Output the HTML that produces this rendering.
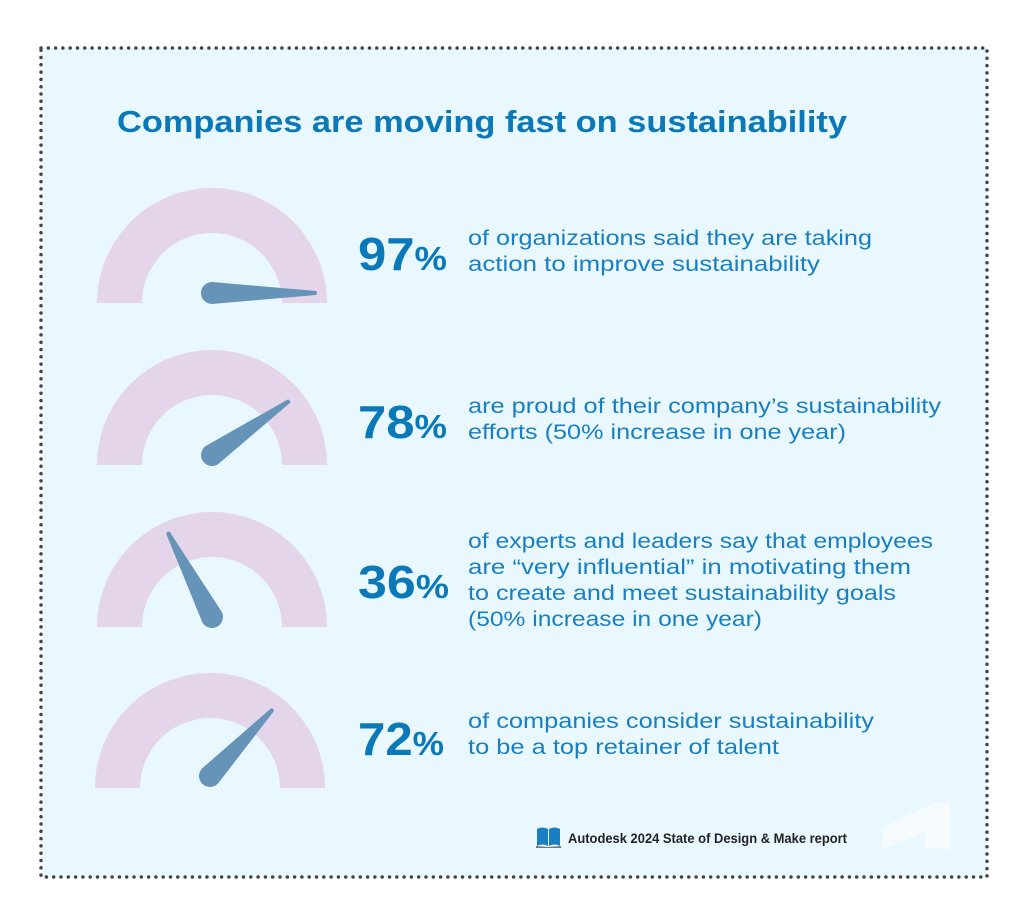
<!DOCTYPE html>
<html><head><meta charset="utf-8"><style>
html,body{margin:0;padding:0;background:#fff;}
svg{display:block;}
text{font-family:"Liberation Sans",sans-serif;}
</style></head><body>
<svg width="1024" height="921" viewBox="0 0 1024 921" xmlns="http://www.w3.org/2000/svg">
<rect x="0" y="0" width="1024" height="921" fill="#fff"/>
<rect x="41" y="48" width="946" height="829" fill="#e8f8fe" stroke="#444" stroke-width="3.5" stroke-dasharray="0 7.3" stroke-linecap="round"/>
<text x="117" y="132" font-size="31" font-weight="bold" fill="#0b78b8" textLength="730" lengthAdjust="spacingAndGlyphs">Companies are moving fast on sustainability</text>

<g fill="#e4d5ea">
<path d="M97 303 A115 115 0 0 1 327 303 L282 303 A70 70 0 0 0 142 303 Z"/>
<path d="M97 465 A115 115 0 0 1 327 465 L282 465 A70 70 0 0 0 142 465 Z"/>
<path d="M97 627 A115 115 0 0 1 327 627 L282 627 A70 70 0 0 0 142 627 Z"/>
<path d="M95 788 A115 115 0 0 1 325 788 L280 788 A70 70 0 0 0 140 788 Z"/>
</g>
<g fill="#6693b8">
<g transform="translate(212,293) rotate(0)"><path d="M0 -11 L104 -2 Q106 0 104 2 L0 11 A11 11 0 0 1 0 -11Z"/></g>
<g transform="translate(212,455) rotate(-35)"><path d="M0 -11 L94 -2 Q96 0 94 2 L0 11 A11 11 0 0 1 0 -11Z"/></g>
<g transform="translate(212,617) rotate(-117.6)"><path d="M0 -11 L95 -2 Q97 0 95 2 L0 11 A11 11 0 0 1 0 -11Z"/></g>
<g transform="translate(210,776) rotate(-46.7)"><path d="M0 -11 L91 -2 Q93 0 91 2 L0 11 A11 11 0 0 1 0 -11Z"/></g>
</g>

<g fill="#0b78b8" font-weight="bold">
<text x="358" y="270" font-size="46" textLength="89" lengthAdjust="spacingAndGlyphs">97<tspan font-size="33">%</tspan></text>
<text x="358" y="438" font-size="46" textLength="89" lengthAdjust="spacingAndGlyphs">78<tspan font-size="33">%</tspan></text>
<text x="358" y="598" font-size="46" textLength="91" lengthAdjust="spacingAndGlyphs">36<tspan font-size="33">%</tspan></text>
<text x="358" y="755" font-size="46" textLength="86" lengthAdjust="spacingAndGlyphs">72<tspan font-size="33">%</tspan></text>
</g>
<g fill="#1a7fc0" font-size="21" lengthAdjust="spacingAndGlyphs">
<text x="468" y="245" textLength="404" lengthAdjust="spacingAndGlyphs">of organizations said they are taking</text>
<text x="468" y="271" textLength="352" lengthAdjust="spacingAndGlyphs">action to improve sustainability</text>
<text x="468" y="413" textLength="473" lengthAdjust="spacingAndGlyphs">are proud of their company’s sustainability</text>
<text x="468" y="439" textLength="378" lengthAdjust="spacingAndGlyphs">efforts (50% increase in one year)</text>
<text x="468" y="548" textLength="465" lengthAdjust="spacingAndGlyphs">of experts and leaders say that employees</text>
<text x="468" y="574" textLength="443" lengthAdjust="spacingAndGlyphs">are “very influential” in motivating them</text>
<text x="468" y="600" textLength="428" lengthAdjust="spacingAndGlyphs">to create and meet sustainability goals</text>
<text x="468" y="626" textLength="294" lengthAdjust="spacingAndGlyphs">(50% increase in one year)</text>
<text x="468" y="728" textLength="406" lengthAdjust="spacingAndGlyphs">of companies consider sustainability</text>
<text x="468" y="754" textLength="311" lengthAdjust="spacingAndGlyphs">to be a top retainer of talent</text>
</g>

<g>
<path d="M537 829 Q542 826 548 829 L548 846 Q542 843 537 846 Z" fill="#1a7fc0"/>
<path d="M549 829 Q555 826 560 829 L560 846 Q555 843 549 846 Z" fill="#1a7fc0"/>
<path d="M536 846 L548 847 L561 846 L561 848 L536 848Z" fill="#777"/>
</g>
<text x="568" y="843" font-size="13.5" font-weight="bold" fill="#222" textLength="279" lengthAdjust="spacingAndGlyphs">Autodesk 2024 State of Design &amp; Make report</text>
<path d="M883 827 L935 803 L950 803 L950 849 L925 849 L925 827 L947 823 L883 849 Z" fill="#f6fcfe"/>
</svg>
</body></html>
